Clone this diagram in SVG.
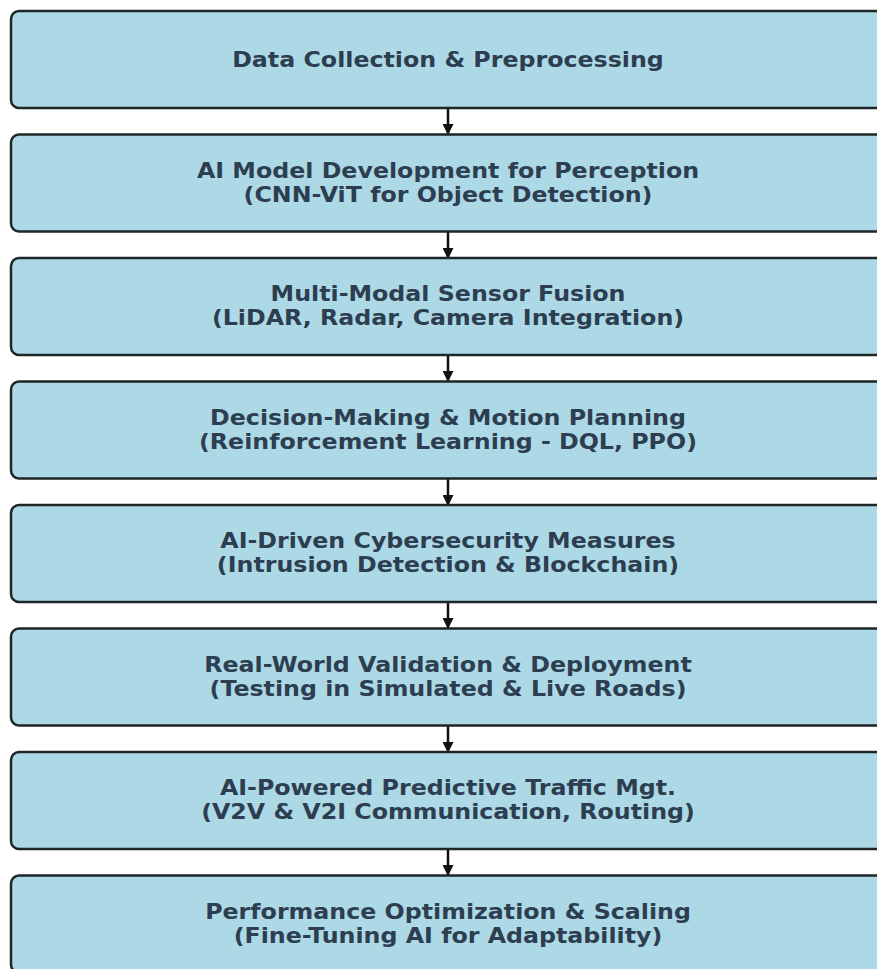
<svg xmlns="http://www.w3.org/2000/svg" width="877" height="969" viewBox="0 0 877 969">
<defs>
<style>
.box{fill:#add8e6;stroke:#1e2628;stroke-width:2.5}
.t{font-family:"DejaVu Sans",sans-serif;font-weight:bold;font-size:21px;fill:#2c3e50;text-anchor:middle}
.c{stroke:#111;stroke-width:2.5;fill:none}
</style>
<marker id="ah" markerWidth="11" markerHeight="11" refX="10" refY="5.5" orient="auto" markerUnits="userSpaceOnUse">
<path d="M0,0 L11,5.5 L0,11 Z" fill="#111"/>
</marker>
</defs>
<rect width="877" height="969" fill="#fff"/>
<g id="connectors">
<line class="c" x1="448" y1="108" x2="448" y2="134" marker-end="url(#ah)"/>
<line class="c" x1="448" y1="232" x2="448" y2="258" marker-end="url(#ah)"/>
<line class="c" x1="448" y1="355" x2="448" y2="381" marker-end="url(#ah)"/>
<line class="c" x1="448" y1="479" x2="448" y2="505" marker-end="url(#ah)"/>
<line class="c" x1="448" y1="602" x2="448" y2="628" marker-end="url(#ah)"/>
<line class="c" x1="448" y1="726" x2="448" y2="752" marker-end="url(#ah)"/>
<line class="c" x1="448" y1="849" x2="448" y2="875" marker-end="url(#ah)"/>
</g>
<g id="n1"><rect class="box" x="11" y="11" width="874" height="97" rx="8"/>
<g transform="translate(448,0) scale(1.13,1)"><text class="t" x="0" y="67.5">Data Collection &amp; Preprocessing</text></g></g>
<g id="n2"><rect class="box" x="11" y="134.5" width="874" height="97" rx="8"/>
<g transform="translate(448,0) scale(1.13,1)"><text class="t" x="0" y="178">AI Model Development for Perception</text>
<text class="t" x="0" y="202">(CNN-ViT for Object Detection)</text></g></g>
<g id="n3"><rect class="box" x="11" y="258" width="874" height="97" rx="8"/>
<g transform="translate(448,0) scale(1.13,1)"><text class="t" x="0" y="301.5">Multi-Modal Sensor Fusion</text>
<text class="t" x="0" y="325.5">(LiDAR, Radar, Camera Integration)</text></g></g>
<g id="n4"><rect class="box" x="11" y="381.5" width="874" height="97" rx="8"/>
<g transform="translate(448,0) scale(1.13,1)"><text class="t" x="0" y="425">Decision-Making &amp; Motion Planning</text>
<text class="t" x="0" y="449">(Reinforcement Learning - DQL, PPO)</text></g></g>
<g id="n5"><rect class="box" x="11" y="505" width="874" height="97" rx="8"/>
<g transform="translate(448,0) scale(1.13,1)"><text class="t" x="0" y="548.5">AI-Driven Cybersecurity Measures</text>
<text class="t" x="0" y="572.5">(Intrusion Detection &amp; Blockchain)</text></g></g>
<g id="n6"><rect class="box" x="11" y="628.5" width="874" height="97" rx="8"/>
<g transform="translate(448,0) scale(1.13,1)"><text class="t" x="0" y="672">Real-World Validation &amp; Deployment</text>
<text class="t" x="0" y="696">(Testing in Simulated &amp; Live Roads)</text></g></g>
<g id="n7"><rect class="box" x="11" y="752" width="874" height="97" rx="8"/>
<g transform="translate(448,0) scale(1.13,1)"><text class="t" x="0" y="795.5">AI-Powered Predictive Traffic Mgt.</text>
<text class="t" x="0" y="819.5">(V2V &amp; V2I Communication, Routing)</text></g></g>
<g id="n8"><rect class="box" x="11" y="875.5" width="874" height="97" rx="8"/>
<g transform="translate(448,0) scale(1.13,1)"><text class="t" x="0" y="919">Performance Optimization &amp; Scaling</text>
<text class="t" x="0" y="943">(Fine-Tuning AI for Adaptability)</text></g></g>
</svg>
